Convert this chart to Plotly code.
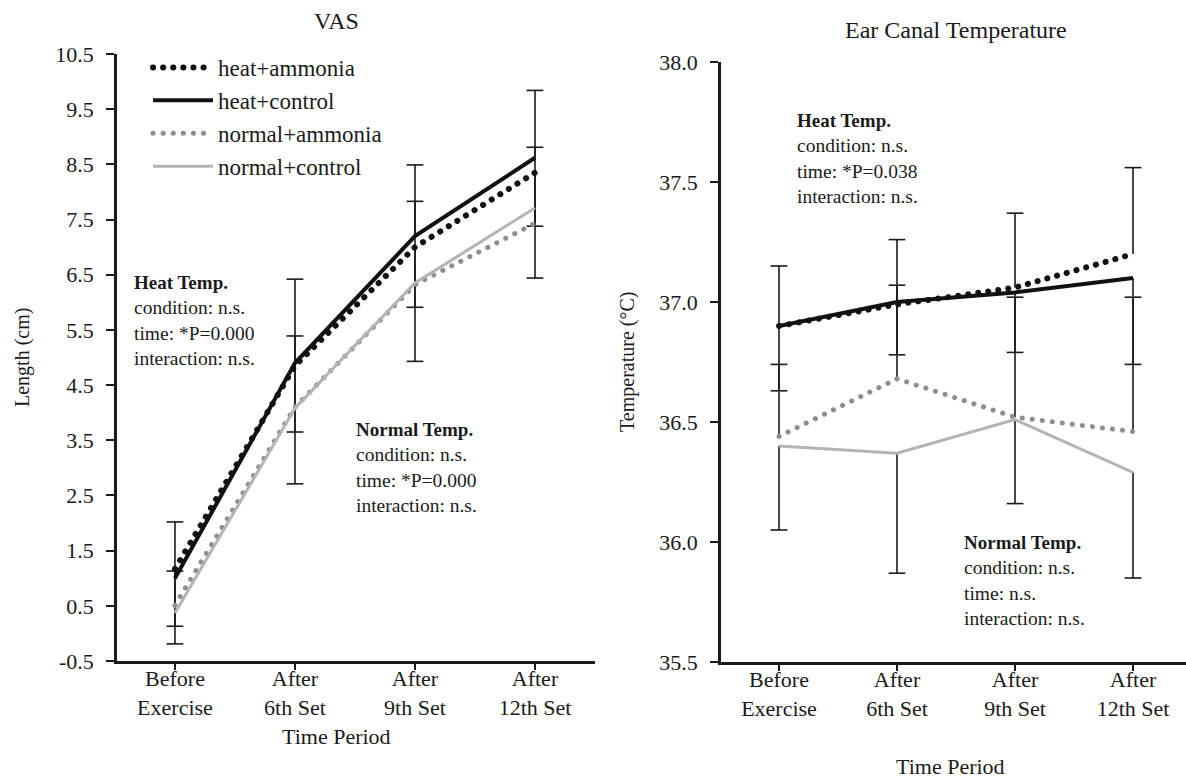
import plotly.graph_objects as go

# ---------------- data ----------------
categories = ["Before<br>Exercise", "After<br>6th Set", "After<br>9th Set", "After<br>12th Set"]
series_names = ["heat+ammonia", "heat+control", "normal+ammonia", "normal+control"]

# VAS (cm)
vas_heat_ammonia = [1.17, 4.85, 7.00, 8.35]
vas_heat_control = [1.00, 4.90, 7.20, 8.62]
vas_normal_ammonia = [0.51, 4.10, 6.32, 7.43]
vas_normal_control = [0.37, 4.08, 6.35, 7.71]
# one-sided SD (direction: +1 drawn upward, -1 drawn downward)
vas_sd_heat_ammonia = [1.04, 1.20, 1.09, 0.97]
vas_sd_heat_control = [1.02, 1.52, 1.29, 1.22]
vas_sd_normal_ammonia = [0.62, 1.29, 1.51, 1.38]
vas_sd_normal_control = [0.56, 1.37, 1.42, 1.27]
vas_sd_dir = [-1, 1, 1, -1]

# Ear canal temperature (deg C)
temp_heat_ammonia = [36.90, 36.99, 37.06, 37.20]
temp_heat_control = [36.90, 37.00, 37.04, 37.10]
temp_normal_ammonia = [36.44, 36.68, 36.52, 36.46]
temp_normal_control = [36.40, 36.37, 36.51, 36.29]
temp_sd_heat_ammonia = [0.25, 0.27, 0.31, 0.36]
temp_sd_heat_control = [0.27, 0.22, 0.25, 0.36]
temp_sd_normal_ammonia = [0.30, 0.39, 0.50, 0.56]
temp_sd_normal_control = [0.35, 0.50, 0.35, 0.44]
temp_sd_dir = [1, -1, 1, -1]

vas_ticks = [-0.5, 0.5, 1.5, 2.5, 3.5, 4.5, 5.5, 6.5, 7.5, 8.5, 9.5, 10.5]
temp_ticks = [35.5, 36.0, 36.5, 37.0, 37.5, 38.0]

# ---------------- style ----------------
W, H = 1186, 779
FONT = "Liberation Serif, Times New Roman, serif"
INK = "#1a1a1a"
styles = [
    dict(color="#111111", width=6, dash="0.1px,10px"),
    dict(color="#111111", width=4, dash="solid"),
    dict(color="#8e8e8e", width=5, dash="0.1px,10px"),
    dict(color="#b4b4b4", width=3, dash="solid"),
]

def px(x):
    return x / W

def py(y):
    return 1 - y / H

fig = go.Figure()

def add_panel(xa, ya, values, sds, dirs, showlegend):
    xs = list(range(len(categories)))
    # error bars: cap marker at the end, stem back to the mean
    for vals, sd, d in zip(values, sds, dirs):
        caps = [v + d * s for v, s in zip(vals, sd)]
        fig.add_trace(go.Scatter(
            x=xs, y=caps, mode="markers", xaxis=xa, yaxis=ya, showlegend=False,
            hoverinfo="skip",
            marker=dict(symbol="line-ew", size=12, line=dict(color=INK, width=1.6), color=INK),
            error_y=dict(type="data", symmetric=False,
                         array=[s if d < 0 else 0 for s in sd],
                         arrayminus=[s if d > 0 else 0 for s in sd],
                         color=INK, thickness=1.6, width=0),
        ))
    for name, vals, st in zip(series_names, values, styles):
        fig.add_trace(go.Scatter(
            x=xs, y=vals, mode="lines", name=name, xaxis=xa, yaxis=ya,
            showlegend=showlegend, line=st,
        ))

add_panel("x", "y",
          [vas_heat_ammonia, vas_heat_control, vas_normal_ammonia, vas_normal_control],
          [vas_sd_heat_ammonia, vas_sd_heat_control, vas_sd_normal_ammonia, vas_sd_normal_control],
          vas_sd_dir, True)
add_panel("x2", "y2",
          [temp_heat_ammonia, temp_heat_control, temp_normal_ammonia, temp_normal_control],
          [temp_sd_heat_ammonia, temp_sd_heat_control, temp_sd_normal_ammonia, temp_sd_normal_control],
          temp_sd_dir, False)

axis_common = dict(showline=True, linecolor=INK, linewidth=2.5, showgrid=False, zeroline=False,
                   ticks="outside", tickcolor=INK, tickwidth=2, mirror=False, automargin=False,
                   tickfont=dict(family=FONT, size=22, color=INK))

fig.update_layout(
    width=W, height=H,
    margin=dict(l=0, r=0, t=0, b=0, pad=0, autoexpand=False),
    paper_bgcolor="white", plot_bgcolor="white",
    font=dict(family=FONT, color=INK),
    xaxis=dict(domain=[px(117), px(595)], range=[-0.483, 3.5],
               tickvals=list(range(4)), ticktext=categories, ticklen=6,
               ticklabelstandoff=-10, anchor="y", **axis_common),
    yaxis=dict(domain=[py(661), py(54)], range=[-0.5, 10.5],
               tickvals=vas_ticks, ticktext=[f"{t:.1f}" for t in vas_ticks], ticklen=8,
               anchor="x", ticklabelstandoff=8, **axis_common),
    xaxis2=dict(domain=[px(721), 1.0], range=[-0.4915, 3.449],
                tickvals=list(range(4)), ticktext=categories, ticklen=6,
                ticklabelstandoff=-10, anchor="y2", **axis_common),
    yaxis2=dict(domain=[py(662), py(62)], range=[35.5, 38.0],
                tickvals=temp_ticks, ticktext=[f"{t:.1f}" for t in temp_ticks], ticklen=8,
                anchor="x2", ticklabelstandoff=8, **axis_common),
    legend=dict(x=px(148), y=py(46), xanchor="left", yanchor="top",
                bgcolor="rgba(0,0,0,0)", itemwidth=60,
                font=dict(family=FONT, size=23, color=INK), tracegroupgap=0),
)

def ann(text, x, y, size, xanchor="center", yanchor="middle", angle=0, align="center"):
    fig.add_annotation(text=text, x=px(x), y=py(y), xref="paper", yref="paper",
                       showarrow=False, xanchor=xanchor, yanchor=yanchor,
                       textangle=angle, align=align,
                       font=dict(family=FONT, size=size, color=INK))

ann("VAS", 336, 21, 24)
ann("Ear Canal Temperature", 956, 30, 24)
ann("Time Period", 336, 736, 22)
ann("Time Period", 950, 766, 22)
ann("Length (cm)", 22, 358, 20, angle=-90)
ann("Temperature (°C)", 628, 362, 20, angle=-90)

def stat_text(title, time_result):
    return ("<span style='font-size:19px'><b>" + title + "</b></span><br>"
            "condition: n.s.<br>time: " + time_result + "<br>interaction: n.s.")

ann(stat_text("Heat Temp.", "*P=0.000"), 132, 270, 19.5, xanchor="left", yanchor="top", align="left")
ann(stat_text("Normal Temp.", "*P=0.000"), 354, 417, 19.5, xanchor="left", yanchor="top", align="left")
ann(stat_text("Heat Temp.", "*P=0.038"), 795, 108, 19.5, xanchor="left", yanchor="top", align="left")
ann(stat_text("Normal Temp.", "n.s."), 962, 530, 19.5, xanchor="left", yanchor="top", align="left")

round_dots = ("document.body.style.margin='0';document.body.style.overflow='hidden';"
              "document.querySelectorAll('path').forEach(function(p){"
              "var d=p.style.strokeDasharray;"
              "if(d && d.indexOf('0.1')===0){p.style.strokeLinecap='round';}});")

fig.write_html("out.html", config={"displayModeBar": False}, post_script=[round_dots])
